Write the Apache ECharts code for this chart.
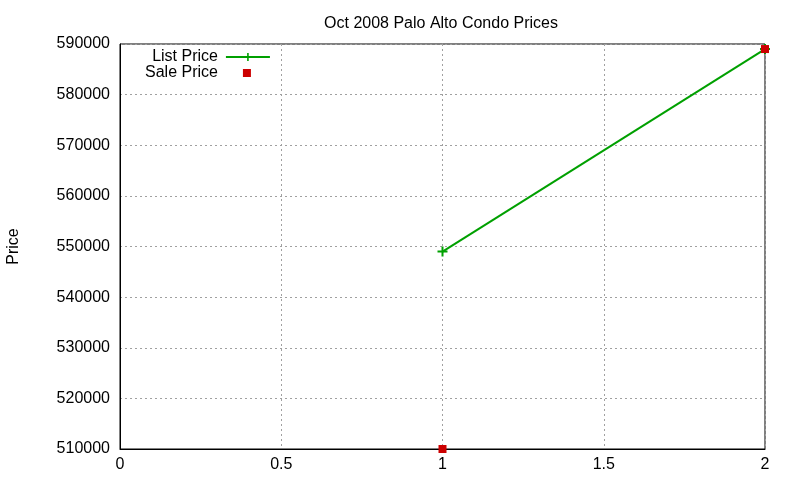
<!DOCTYPE html>
<html>
<head>
<meta charset="utf-8">
<script src="https://cdn.jsdelivr.net/npm/echarts@6/dist/echarts.min.js"></script>
<style>html,body{margin:0;padding:0;background:#fff;}#c{width:800px;height:480px;}</style>
</head>
<body>
<div id="c"></div>
<script>
var titleText = 'Oct 2008 Palo Alto Condo Prices';
var seriesNames = ['List Price', 'Sale Price'];
var xValues = [1, 2];
var listPrice = [549000, 589000];
var salePrice = [510000, 589000];

var chart = echarts.init(document.getElementById('c'));
var font = 'Liberation Sans, Arial, sans-serif';
chart.setOption({
  animation: false,
  backgroundColor: '#fff',
  title: {
    text: titleText, left: 436, top: 11, textAlign: 'center',
    textStyle: {fontFamily: font, fontSize: 16, fontWeight: 'normal', color: '#000'}
  },
  legend: {
    orient: 'vertical', left: 140, top: 44, align: 'right',
    itemWidth: 44, itemHeight: 10, itemGap: 0,
    textStyle: {fontFamily: font, fontSize: 16, lineHeight: 16, color: '#000', padding: [0, 3, 0, 0]},
    data: [
      {name: seriesNames[0]},
      {name: seriesNames[1], icon: 'path://M0,0M44,10M17,1H25V9H17Z'}
    ]
  },
  grid: {left: 120, right: 35, top: 44, bottom: 31, outerBoundsMode: 'none', containLabel: false,
         show: true, borderColor: '#000', borderWidth: 1},
  xAxis: {
    type: 'value', min: 0, max: 2, interval: 0.5,
    axisLine: {show: true, onZero: false, lineStyle: {color: '#000'}},
    axisTick: {show: false},
    axisLabel: {fontFamily: font, fontSize: 16, color: '#000', margin: 8},
    splitLine: {show: true, lineStyle: {color: '#a0a0a0', type: [2, 3]}}
  },
  yAxis: {
    type: 'value', min: 510000, max: 590000, interval: 10000,
    name: 'Price', nameLocation: 'middle', nameGap: 98, nameRotate: 90,
    nameTextStyle: {fontFamily: font, fontSize: 16, color: '#000'},
    axisLine: {show: true, lineStyle: {color: '#000'}},
    axisTick: {show: false},
    axisLabel: {fontFamily: font, fontSize: 16, color: '#000', margin: 10,
                formatter: function (v) { return String(v); }},
    splitLine: {show: true, lineStyle: {color: '#a0a0a0', type: [2, 3]}}
  },
  series: [
    {
      name: seriesNames[0], type: 'line',
      data: xValues.map(function (x, i) { return [x, listPrice[i]]; }),
      lineStyle: {color: '#00a000', width: 2},
      itemStyle: {color: '#00a000', opacity: 1},
      symbol: 'path://M4,0H6V4H10V6H6V10H4V6H0V4H4Z', symbolSize: 10,
      showAllSymbol: true, clip: false, z: 3
    },
    {
      name: seriesNames[1], type: 'scatter',
      data: xValues.map(function (x, i) { return [x, salePrice[i]]; }),
      itemStyle: {color: '#cc0000', opacity: 1},
      symbol: 'rect', symbolSize: 8, clip: false, z: 4
    }
  ]
});
</script>
</body>
</html>
